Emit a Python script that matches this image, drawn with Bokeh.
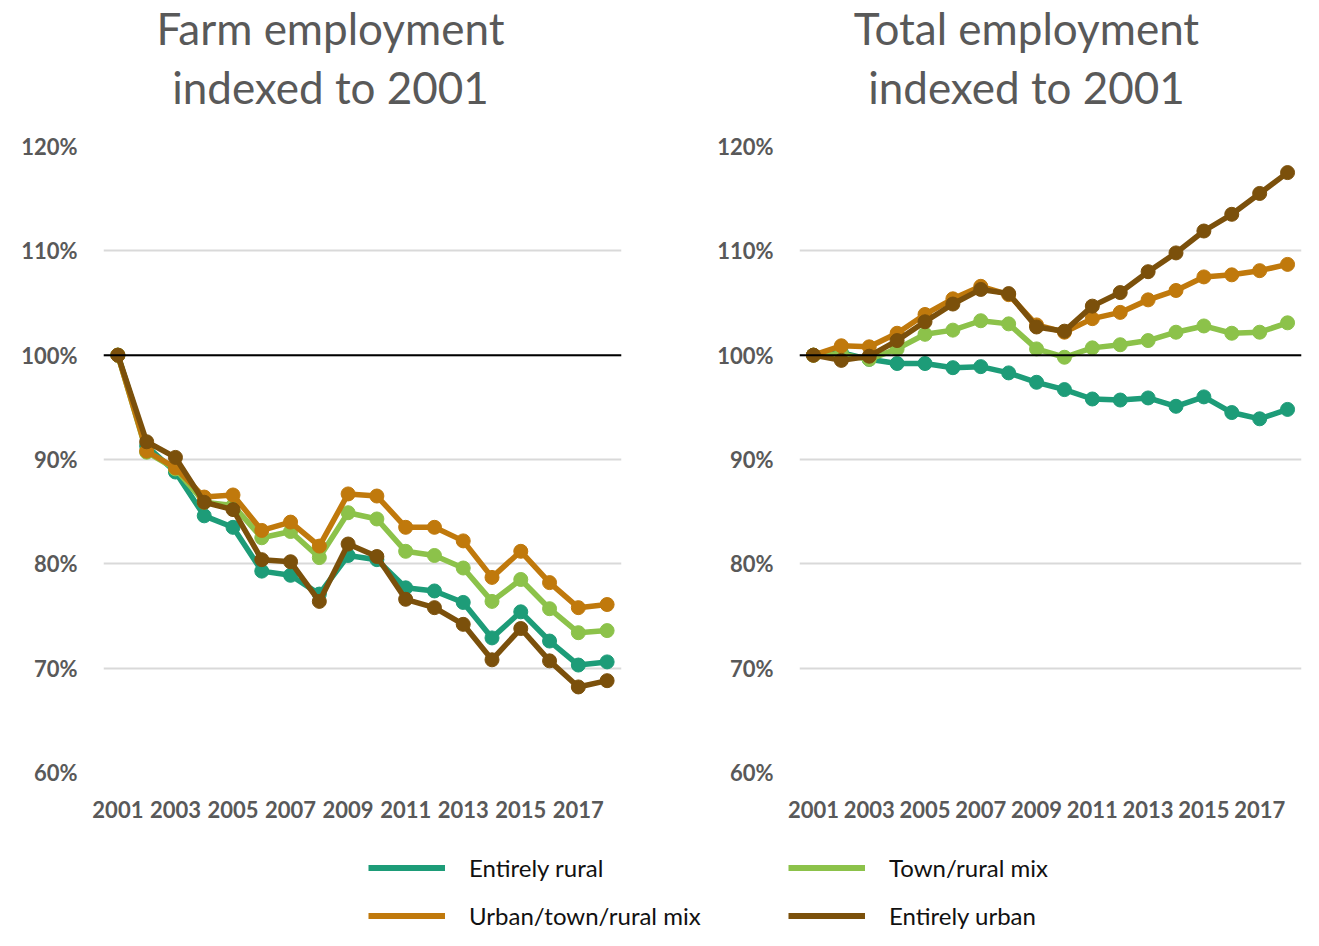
from bokeh.plotting import figure
from bokeh.layouts import column, row
from bokeh.models import (Range1d, FixedTicker, PrintfTickFormatter, Span, Label,
                          Legend, LegendItem)
from bokeh.embed import file_html
from bokeh.resources import INLINE

years = list(range(2001, 2019))
series_names = ["Entirely rural", "Town/rural mix", "Urban/town/rural mix", "Entirely urban"]
colors = ["#1d9c78", "#8cc24a", "#c0790c", "#7b500b"]

xtick_years = [2001, 2003, 2005, 2007, 2009, 2011, 2013, 2015, 2017]
ytick_values = [60, 70, 80, 90, 100, 110, 120]

farm_rural = [100, 91.3, 88.8, 84.6, 83.5, 79.3, 78.9, 77.1, 80.8, 80.4, 77.7, 77.4, 76.3, 72.9, 75.4, 72.6, 70.3, 70.6]
farm_town = [100, 90.7, 89.1, 85.9, 85.6, 82.5, 83.1, 80.6, 84.9, 84.3, 81.2, 80.8, 79.6, 76.4, 78.5, 75.7, 73.4, 73.6]
farm_mix = [100, 90.8, 89.2, 86.4, 86.6, 83.2, 84.0, 81.7, 86.7, 86.5, 83.5, 83.5, 82.2, 78.7, 81.2, 78.2, 75.8, 76.1]
farm_urban = [100, 91.7, 90.2, 85.9, 85.2, 80.4, 80.2, 76.4, 81.9, 80.7, 76.6, 75.8, 74.2, 70.8, 73.8, 70.7, 68.2, 68.8]

total_rural = [100, 100.25, 99.6, 99.2, 99.2, 98.8, 98.9, 98.3, 97.4, 96.7, 95.8, 95.7, 95.9, 95.1, 96.0, 94.5, 93.9, 94.8]
total_town = [100, 100.1, 99.6, 100.6, 102.0, 102.4, 103.3, 103.0, 100.6, 99.8, 100.7, 101.0, 101.4, 102.2, 102.8, 102.1, 102.2, 103.1]
total_mix = [100, 100.9, 100.8, 102.1, 103.9, 105.4, 106.6, 105.8, 102.9, 102.2, 103.5, 104.1, 105.3, 106.2, 107.5, 107.7, 108.1, 108.7]
total_urban = [100, 99.5, 99.9, 101.4, 103.2, 104.9, 106.3, 105.9, 102.7, 102.3, 104.7, 106.0, 108.0, 109.8, 111.9, 113.5, 115.5, 117.5]

titles_left = ["Farm employment", "indexed to 2001"]
titles_right = ["Total employment", "indexed to 2001"]

FONT = "Lato"
GREY = "#595959"
TOTAL_W = 1303

# header with the two chart titles
HEAD_H = 126
p0 = figure(width=TOTAL_W, height=HEAD_H, output_backend="svg", toolbar_location=None,
            x_range=Range1d(0, TOTAL_W), y_range=Range1d(0, HEAD_H),
            x_axis_type=None, y_axis_type=None, min_border=0)
p0.outline_line_color = None
p0.xgrid.grid_line_color = None
p0.ygrid.grid_line_color = None
for lines, cx in [(titles_left, 330), (titles_right, 1026)]:
    for t, cy in zip(lines, [HEAD_H - 27, HEAD_H - 86]):
        p0.add_layout(Label(x=cx, y=cy, text=t, text_align="center", text_baseline="middle",
                            text_font=FONT, text_font_size="44px", text_color=GREY))


def make_chart(width, border_left, border_right, series):
    p = figure(width=width, height=695, output_backend="svg", toolbar_location=None,
               x_range=Range1d(2000.5, 2018.5), y_range=Range1d(60, 120),
               min_border_left=border_left, min_border_right=border_right,
               min_border_top=20, min_border_bottom=49)
    p.outline_line_color = None
    p.xgrid.grid_line_color = None
    p.ygrid.grid_line_color = "#d9d9d9"
    p.ygrid.grid_line_width = 2
    p.yaxis.ticker = FixedTicker(ticks=ytick_values)
    p.yaxis.formatter = PrintfTickFormatter(format="%d%%")
    p.xaxis.ticker = FixedTicker(ticks=xtick_years)
    for ax in (p.xaxis[0], p.yaxis[0]):
        ax.axis_line_color = None
        ax.major_tick_line_color = None
        ax.minor_tick_line_color = None
        ax.major_label_text_font = FONT
        ax.major_label_text_font_style = "bold"
        ax.major_label_text_font_size = "22px"
        ax.major_label_text_color = GREY
    p.yaxis.major_label_standoff = 20
    p.xaxis.major_label_standoff = 22

    p.add_layout(Span(location=100, dimension="width", line_color="black", line_width=2))

    for vals, c in zip(series, colors):
        p.line(years, vals, line_color=c, line_width=5.5)
        p.scatter(years, vals, size=14, fill_color=c, line_color=c)
    return p


W1 = 656
p1 = make_chart(W1, 103, 35, [farm_rural, farm_town, farm_mix, farm_urban])
p2 = make_chart(TOTAL_W - W1, 143, 2, [total_rural, total_town, total_mix, total_urban])

# legend strip
LEG_H = 109
p3 = figure(width=TOTAL_W, height=LEG_H, output_backend="svg", toolbar_location=None,
            x_range=Range1d(0, 1), y_range=Range1d(0, 1),
            x_axis_type=None, y_axis_type=None, min_border=0)
p3.outline_line_color = None
p3.xgrid.grid_line_color = None
p3.ygrid.grid_line_color = None
# renderers carrying the series styles (their data lies outside this strip's ranges)
rends = [p3.line(years, vals, line_color=c, line_width=6)
         for vals, c in zip([farm_rural, farm_town, farm_mix, farm_urban], colors)]

for idx, xloc in [((0, 2), 368), ((1, 3), 788)]:
    items = [LegendItem(label=series_names[i], renderers=[rends[i]]) for i in idx]
    leg = Legend(items=items, location=(xloc, 0), orientation="vertical",
                 glyph_width=77, glyph_height=29, label_height=29, label_standoff=24,
                 spacing=19, padding=0, margin=0, border_line_color=None,
                 background_fill_alpha=0, label_text_font=FONT,
                 label_text_font_size="24px", label_text_color="#111111")
    p3.add_layout(leg)

layout = column(p0, row(p1, p2), p3)
open("out.html", "w").write(file_html(layout, INLINE))
